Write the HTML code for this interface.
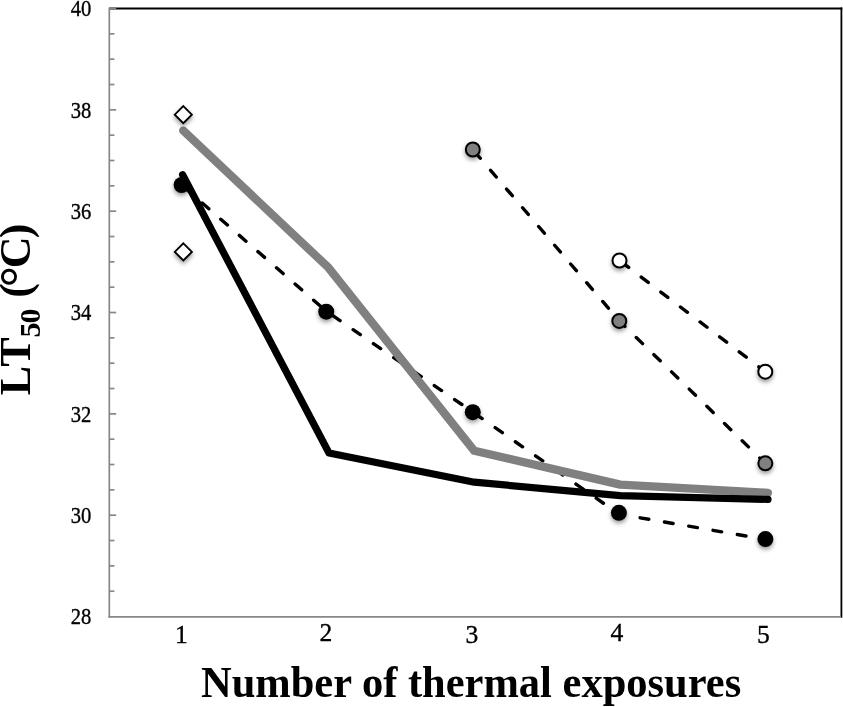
<!DOCTYPE html>
<html><head><meta charset="utf-8"><style>
html,body{margin:0;padding:0;background:#fff;}
body{width:843px;height:707px;overflow:hidden;}
svg{display:block;}
text{font-family:"Liberation Serif",serif;fill:#000;}
svg{will-change:transform;}
</style></head><body>
<svg width="843" height="707" viewBox="0 0 843 707">
<defs>
<filter id="sh" x="-50%" y="-50%" width="200%" height="200%">
<feDropShadow dx="0" dy="2.5" stdDeviation="2" flood-color="#000" flood-opacity="0.4"/>
</filter>
</defs>
<rect width="843" height="707" fill="#fff"/>
<!-- frame -->
<g stroke="#000" stroke-width="1.8" fill="none">
<line x1="109.3" y1="8.5" x2="842.3" y2="8.5"/>
<line x1="841.4" y1="7.6" x2="841.4" y2="617.8"/>
</g>
<!-- axes -->
<g stroke="#878787" stroke-width="1.7" fill="none">
<line x1="109.3" y1="7.6" x2="109.3" y2="617.8"/>
<line x1="108.45" y1="616.9" x2="840.5" y2="616.9"/>
<line x1="109.3" y1="8.50" x2="116.2" y2="8.50"/><line x1="109.3" y1="33.84" x2="114.4" y2="33.84"/><line x1="109.3" y1="59.17" x2="114.4" y2="59.17"/><line x1="109.3" y1="84.50" x2="114.4" y2="84.50"/><line x1="109.3" y1="109.84" x2="116.2" y2="109.84"/><line x1="109.3" y1="135.18" x2="114.4" y2="135.18"/><line x1="109.3" y1="160.51" x2="114.4" y2="160.51"/><line x1="109.3" y1="185.84" x2="114.4" y2="185.84"/><line x1="109.3" y1="211.18" x2="116.2" y2="211.18"/><line x1="109.3" y1="236.52" x2="114.4" y2="236.52"/><line x1="109.3" y1="261.85" x2="114.4" y2="261.85"/><line x1="109.3" y1="287.19" x2="114.4" y2="287.19"/><line x1="109.3" y1="312.52" x2="116.2" y2="312.52"/><line x1="109.3" y1="337.86" x2="114.4" y2="337.86"/><line x1="109.3" y1="363.19" x2="114.4" y2="363.19"/><line x1="109.3" y1="388.53" x2="114.4" y2="388.53"/><line x1="109.3" y1="413.86" x2="116.2" y2="413.86"/><line x1="109.3" y1="439.19" x2="114.4" y2="439.19"/><line x1="109.3" y1="464.53" x2="114.4" y2="464.53"/><line x1="109.3" y1="489.87" x2="114.4" y2="489.87"/><line x1="109.3" y1="515.20" x2="116.2" y2="515.20"/><line x1="109.3" y1="540.53" x2="114.4" y2="540.53"/><line x1="109.3" y1="565.87" x2="114.4" y2="565.87"/><line x1="109.3" y1="591.21" x2="114.4" y2="591.21"/>
</g>
<g font-size="23" text-anchor="end" stroke="#000" stroke-width="0.35"><text x="91.4" y="16.30" textLength="20.6" lengthAdjust="spacingAndGlyphs">40</text><text x="91.4" y="117.64" textLength="20.6" lengthAdjust="spacingAndGlyphs">38</text><text x="91.4" y="218.98" textLength="20.6" lengthAdjust="spacingAndGlyphs">36</text><text x="91.4" y="320.32" textLength="20.6" lengthAdjust="spacingAndGlyphs">34</text><text x="91.4" y="421.66" textLength="20.6" lengthAdjust="spacingAndGlyphs">32</text><text x="91.4" y="523.00" textLength="20.6" lengthAdjust="spacingAndGlyphs">30</text><text x="91.4" y="624.34" textLength="20.6" lengthAdjust="spacingAndGlyphs">28</text></g>
<g font-size="25.6" text-anchor="middle" stroke="#000" stroke-width="0.35"><text x="181.5" y="642.7">1</text><text x="326.0" y="641.0">2</text><text x="472.0" y="642.7">3</text><text x="617.0" y="641.0">4</text><text x="763.4" y="642.7">5</text></g>
<text x="201" y="696.5" font-size="44" font-weight="bold" textLength="540.2" lengthAdjust="spacingAndGlyphs">Number of thermal exposures</text>
<g font-weight="bold" text-anchor="middle"><text transform="translate(30,380.5) rotate(-90)" font-size="44">L</text><text transform="translate(30,352.05) rotate(-90)" font-size="44">T</text><text transform="translate(39.9,330.0) rotate(-90)" font-size="30">5</text><text transform="translate(39.9,315.9) rotate(-90)" font-size="30">0</text><text transform="translate(30,290.4) rotate(-90)" font-size="44">(</text><text transform="translate(35.7,276.65) rotate(-90)" font-size="52.7">°</text><text transform="translate(30,252.3) rotate(-90)" font-size="44">C</text><text transform="translate(30,230.95) rotate(-90)" font-size="44">)</text></g>
<!-- dashed series -->
<g stroke="#000" stroke-width="3.4" fill="none" stroke-linecap="round" stroke-linejoin="round" stroke-dasharray="8.8 15.85" stroke-dashoffset="21.95">
<polyline points="181.6,185.0 326.25,311.2 472.75,412.0 619.1,514.2 765.4,539.3"/>
<polyline points="472.8,149.5 619.3,320.9 765.35,463.35"/>
<polyline points="619.5,260.5 765.3,371.7"/>
</g>
<!-- solid lines -->
<polyline points="183.2,130.6 328.4,267.6 474.3,450.8 620.2,484.6 768,492.8" stroke="#808080" stroke-width="8.3" fill="none" stroke-linecap="round" stroke-linejoin="round"/>
<polyline points="182.6,174.8 329,453 474.3,482.2 620.2,495.6 768,499.4" stroke="#000" stroke-width="7.2" fill="none" stroke-linecap="round" stroke-linejoin="round"/>
<!-- markers -->
<g filter="url(#sh)">
<circle cx="181.6" cy="185.0" r="8.0" fill="#000"/><circle cx="326.25" cy="311.7" r="8.0" fill="#000"/><circle cx="472.75" cy="412.2" r="8.0" fill="#000"/><circle cx="618.9" cy="512.8" r="8.0" fill="#000"/><circle cx="765.4" cy="539.1" r="8.0" fill="#000"/>
<circle cx="472.8" cy="149.5" r="7.0" fill="#808080" stroke="#000" stroke-width="2"/><circle cx="619.3" cy="320.9" r="7.0" fill="#808080" stroke="#000" stroke-width="2"/><circle cx="765.35" cy="463.35" r="7.0" fill="#808080" stroke="#000" stroke-width="2"/>
<circle cx="619.5" cy="260.5" r="7.0" fill="#fff" stroke="#000" stroke-width="2"/><circle cx="765.3" cy="371.7" r="7.0" fill="#fff" stroke="#000" stroke-width="2"/>
<path d="M183.3,106.15 L191.85,114.7 L183.3,123.25 L174.75,114.7 Z" fill="#fff" stroke="#000" stroke-width="1.85"/>
<path d="M183.35,243.35 L191.9,251.9 L183.35,260.45 L174.8,251.9 Z" fill="#fff" stroke="#000" stroke-width="1.85"/>
</g>
</svg>
</body></html>
